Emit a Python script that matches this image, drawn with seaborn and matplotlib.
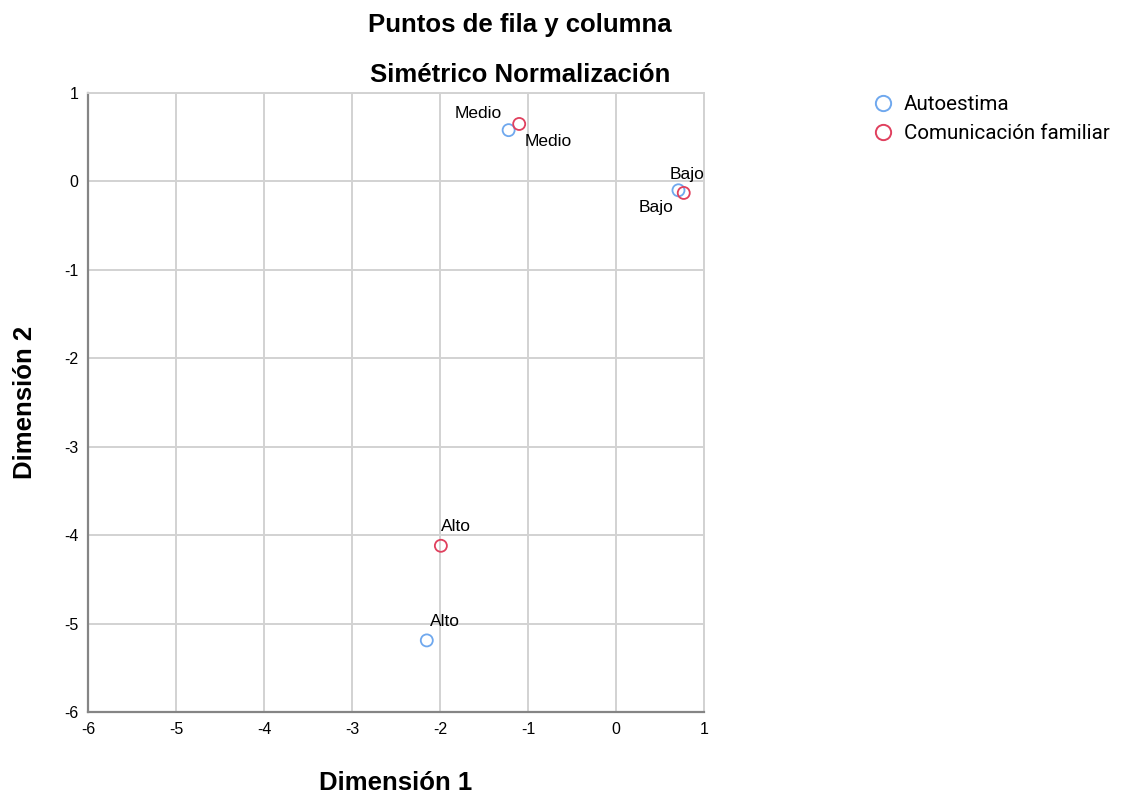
import matplotlib
matplotlib.use("Agg")
import matplotlib.pyplot as plt
from matplotlib.lines import Line2D
import seaborn as sns
import pandas as pd

# coordenadas de fila (Autoestima) y columna (Comunicación familiar)
categorias = ["Medio", "Bajo", "Alto"]
autoestima_d1 = [-1.22, 0.71, -2.15]
autoestima_d2 = [0.58, -0.10, -5.19]
comunicacion_d1 = [-1.10, 0.77, -1.99]
comunicacion_d2 = [0.65, -0.13, -4.12]

grupos = ["Autoestima", "Comunicación familiar"]
colores = ["#6fa8ee", "#e0405e"]

df = pd.concat([
    pd.DataFrame({"d1": autoestima_d1, "d2": autoestima_d2, "cat": categorias, "grupo": grupos[0]}),
    pd.DataFrame({"d1": comunicacion_d1, "d2": comunicacion_d2, "cat": categorias, "grupo": grupos[1]}),
], ignore_index=True)

# desplazamiento de cada etiqueta (pixeles), en el orden de df
offsets = [(-30, 17), (9, 16), (18, 19),
           (29, -18), (-28, -15), (15, 19)]

sns.set_style("white")
plt.rcParams["font.family"] = ["Liberation Sans", "DejaVu Sans"]
plt.rcParams["axes.unicode_minus"] = False
plt.rcParams["text.color"] = "black"

fig = plt.figure(figsize=(11.21, 7.97), dpi=100)
ax = fig.add_axes([0.0785, 0.1066, 0.5495, 0.7767])

for g, c in zip(grupos, colores):
    sns.scatterplot(data=df[df["grupo"] == g], x="d1", y="d2", ax=ax,
                    color=c, facecolor="none", edgecolor=c, linewidth=1.3,
                    s=75, zorder=3, legend=False)

for (_, row), off in zip(df.iterrows(), offsets):
    ax.annotate(row["cat"], (row["d1"], row["d2"]), xytext=off,
                textcoords="offset pixels", ha="center", va="center",
                fontsize=12.5, color="black")

ax.set_xlim(-6, 1)
ax.set_ylim(-6, 1)
ax.set_xticks(range(-6, 2))
ax.set_yticks(range(-6, 2))
ax.grid(True, color="#d2d2d2", linewidth=1.4)
ax.set_axisbelow(True)
ax.tick_params(length=0, labelsize=11.5, pad=7, colors="black")
for side in ["top", "right"]:
    ax.spines[side].set_color("#d2d2d2")
    ax.spines[side].set_linewidth(1.4)
for side in ["left", "bottom"]:
    ax.spines[side].set_color("#858585")
    ax.spines[side].set_linewidth(1.6)

ax.set_xlabel("")
ax.set_ylabel("")
fig.text(396 / 1121, 1 - 790 / 797, "Dimensión 1", ha="center", va="baseline",
         fontsize=18.5, fontweight="bold")
fig.text(25 / 1121, 1 - 402 / 797, "Dimensión 2", ha="center", va="center",
         rotation=90, fontsize=18.5, fontweight="bold")

fig.text(520 / 1121, 1 - 32 / 797, "Puntos de fila y columna", ha="center",
         va="baseline", fontsize=18.5, fontweight="bold")
fig.text(520 / 1121, 1 - 82 / 797, "Simétrico Normalización", ha="center",
         va="baseline", fontsize=18.5, fontweight="bold")

handles = [Line2D([], [], marker="o", linestyle="none", markersize=11,
                  markerfacecolor="none", markeredgecolor=c, markeredgewidth=1.4)
           for c in colores]
fig.legend(handles, grupos, loc="upper left", bbox_to_anchor=(0.7785, 0.8804),
           frameon=False, borderaxespad=0, borderpad=0, handlelength=1.0,
           handletextpad=0.5, labelspacing=0.47,
           prop={"family": "Roboto", "size": 14.8})

fig.savefig("out.png", dpi=100)
